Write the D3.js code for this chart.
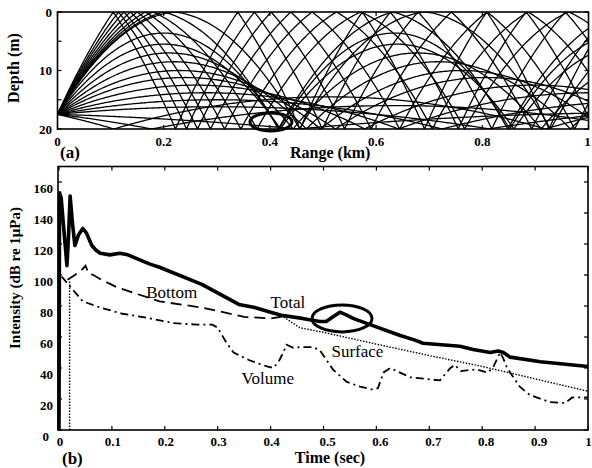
<!DOCTYPE html>
<html><head><meta charset="utf-8">
<script src="https://cdn.jsdelivr.net/npm/d3@7"></script>
<style>body{margin:0;background:#fff}svg{display:block}</style>
</head><body>
<svg id="c" width="592" height="468"></svg>
<script>
// ---------- Panel (a): ray trace ----------
const sourceDepth = 17.5;           // m
const waterDepth = 20;              // m
const rangeTicks = [0, 0.2, 0.4, 0.6, 0.8, 1];
const rangeTickLabels = ["0", "0.2", "0.4", "0.6", "0.8", "1"];
const depthTicks = [0, 5, 10, 15, 20];
const depthTickLabels = ["0", "", "10", "", "20"];
// steep rays: range (km) where they first hit the surface
const surfaceHitRange = [0.105, 0.115, 0.125, 0.137, 0.15, 0.165, 0.18, 0.2, 0.22];
const surfaceCurv = 320;            // m/km^2
// refracted rays: [apex depth (m), apex range (km)] of the first turning point
const refractedUp = [[3.6,0.2],[5.5,0.2],[7,0.21],[8.5,0.22],[10,0.23],[11.2,0.24],[12.5,0.26],[13.8,0.28],[15,0.3],[16.2,0.3]];
// rays launched downward: [apex depth (m), apex range (km)] of the arc after bottom bounce
const refractedDown = [[14.5,0.3],[16,0.28],[17.2,0.22]];

// ---------- Panel (b): intensity ----------
const timeTicks = [0,0.1,0.2,0.3,0.4,0.5,0.6,0.7,0.8,0.9,1];
const timeTickLabels = ["0","0.1","0.2","0.3","0.4","0.5","0.6","0.7","0.8","0.9","1"];
const intTicks = [0,20,40,60,80,100,120,140,160];
const intTickLabels = ["0","20","40","60","80","100","120","140","160"];
const totalT = [0,0.001,0.004,0.015,0.018,0.021,0.025,0.03,0.037,0.045,0.052,0.062,0.07,0.078,0.096,0.115,0.13,0.172,0.19,0.27,0.34,0.37,0.4,0.42,0.46,0.493,0.505,0.518,0.531,0.545,0.556,0.588,0.645,0.673,0.688,0.758,0.783,0.815,0.83,0.84,0.853,0.91,1.0];
const totalV = [0,153,150,106,125,151,135,119,126,130,127,119,116,114,113,114,113,107,105,94,81,79,76,74,72,70,70,73,76,74,72,68,61,58,56,54,52,50,51,50,47,44,41];
const bottomT = [0.016,0.03,0.045,0.05,0.056,0.065,0.08,0.11,0.19,0.27,0.35,0.4,0.43];
const bottomV = [97,100,104,106,101,100,97,92,83,79,73,72,73.5];
const surfaceT = [0.02,0.02,null,0.42,0.455,0.5,0.6,0.7,0.8,0.9,1.0];
const surfaceV = [0,97,null,74,66,63,55.4,48,41,33,25];
const volumeT = [0.005,0.015,0.03,0.045,0.078,0.12,0.172,0.216,0.26,0.29,0.3,0.317,0.33,0.36,0.393,0.405,0.415,0.424,0.43,0.443,0.455,0.48,0.493,0.518,0.544,0.569,0.594,0.603,0.613,0.626,0.664,0.72,0.74,0.748,0.76,0.777,0.79,0.81,0.82,0.834,0.84,0.847,0.871,0.89,0.928,0.957,0.97,1.0];
const volumeV = [99,95,89,83,79,75,72,69,68,68,66,56,50,45,41,40,44,50,55,53,53.5,53.5,51.5,39,31,28,26,27,37,40,34,32,40,42,38,38.7,39,37,40,50,46,40,28,22.6,18,17.4,21,21];
const labelNames = ["Bottom","Total","Surface","Volume"];
const labelT = [0.165,0.4,0.515,0.345];
const labelV = [85,79,47,30];

const svg = d3.select("#c");
const serif = "'Liberation Serif','Times New Roman',serif";

// scales
const xA = d3.scaleLinear([0,1],[57.5,588.5]);
const yA = d3.scaleLinear([0,20],[12,129]);
const xB = d3.scaleLinear([0,1],[59,588]);
const yB = d3.scaleLinear([0,170],[430,166.5]);

// ---- ray tracing with parabolic arcs reflecting at surface/bottom ----
function trace(zt, rc, a){
  const pts = [[0, sourceDepth]];
  let r0 = 0, guard = 0;
  while (r0 < 1.02 && guard++ < 200){
    let r1;
    if (r0 < rc && zt < 0) r1 = rc - Math.sqrt(-zt/a);
    else r1 = rc + Math.sqrt((waterDepth - zt)/a);
    const n = Math.max(2, Math.ceil((r1 - r0)/0.003));
    for (let i=1;i<=n;i++){
      const r = r0 + (r1-r0)*i/n;
      let z = zt + a*(r-rc)*(r-rc);
      z = Math.max(0, Math.min(waterDepth, z));
      pts.push([r, z]);
    }
    rc = 2*r1 - rc; r0 = r1;
  }
  return pts;
}
const rays = [];
surfaceHitRange.forEach(rs => {
  const k = rs*Math.sqrt(surfaceCurv);
  let su = (sourceDepth - k*k)/(2*k); if (su < 0.05) su = 0.05;
  const u = su*su;
  const rc = Math.sqrt((sourceDepth+u)/surfaceCurv);
  rays.push(trace(-u, rc, surfaceCurv));
});
refractedUp.forEach(([zt, rc]) => {
  const a = (sourceDepth - zt)/(rc*rc);
  rays.push(trace(zt, rc, a));
});
refractedDown.forEach(([zt, rb]) => {
  const a = (sourceDepth - zt)/(rb*rb);
  const rcNeg = -Math.sqrt((sourceDepth - zt)/a);
  rays.push(trace(zt, rcNeg, a));
});

svg.append("defs").append("clipPath").attr("id","clipA")
  .append("rect").attr("x",xA(0)).attr("y",yA(0)).attr("width",xA(1)-xA(0)).attr("height",yA(20)-yA(0));

const rayLine = d3.line().x(d=>xA(d[0])).y(d=>yA(d[1]));
svg.append("g").attr("clip-path","url(#clipA)")
  .selectAll("path").data(rays).join("path")
  .attr("d", rayLine).attr("fill","none").attr("stroke","#000").attr("stroke-width",1.3);

// frame (a)
svg.append("rect").attr("x",xA(0)).attr("y",yA(0)).attr("width",xA(1)-xA(0)).attr("height",yA(20)-yA(0))
  .attr("fill","none").attr("stroke","#000").attr("stroke-width",1.6);
const gA = svg.append("g");
rangeTicks.forEach(v=>{
  gA.append("line").attr("x1",xA(v)).attr("x2",xA(v)).attr("y1",yA(20)).attr("y2",yA(20)-4).attr("stroke","#000").attr("stroke-width",1.2);
  gA.append("line").attr("x1",xA(v)).attr("x2",xA(v)).attr("y1",yA(0)).attr("y2",yA(0)+4).attr("stroke","#000").attr("stroke-width",1.2);
});
depthTicks.forEach(v=>{
  gA.append("line").attr("x1",xA(0)).attr("x2",xA(0)+4).attr("y1",yA(v)).attr("y2",yA(v)).attr("stroke","#000").attr("stroke-width",1.2);
  gA.append("line").attr("x1",xA(1)).attr("x2",xA(1)-4).attr("y1",yA(v)).attr("y2",yA(v)).attr("stroke","#000").attr("stroke-width",1.2);
});
gA.selectAll("text.xl").data(rangeTicks).join("text")
  .attr("x",(d)=>d===1?xA(d)-1:xA(d)).attr("y",146).attr("text-anchor","middle")
  .attr("font-family",serif).attr("font-weight","bold").attr("font-size",13)
  .text((d,i)=>rangeTickLabels[i]);
gA.selectAll("text.yl").data(depthTicks).join("text")
  .attr("x",52).attr("y",d=>yA(d)+4.5).attr("text-anchor","end")
  .attr("font-family",serif).attr("font-weight","bold").attr("font-size",13)
  .text((d,i)=>depthTickLabels[i]);
svg.append("text").attr("x",290).attr("y",158).attr("font-family",serif).attr("font-weight","bold").attr("font-size",16)
  .text("Range (km)");
svg.append("text").attr("x",60).attr("y",158).attr("font-family",serif).attr("font-weight","bold").attr("font-size",17).text("(a)");
svg.append("text").attr("transform","translate(19,68) rotate(-90)").attr("text-anchor","middle")
  .attr("font-family",serif).attr("font-weight","bold").attr("font-size",16).text("Depth (m)");
svg.append("ellipse").attr("cx",xA(0.402)).attr("cy",yA(18.8)).attr("rx",21).attr("ry",9)
  .attr("fill","none").attr("stroke","#000").attr("stroke-width",3);

// ---------- Panel (b) ----------
svg.append("rect").attr("x",xB(0)-1).attr("y",yB(170)).attr("width",xB(1)-xB(0)+1).attr("height",yB(0)-yB(170))
  .attr("fill","none").attr("stroke","#000").attr("stroke-width",1.6);
const gB = svg.append("g");
timeTicks.forEach(v=>{
  gB.append("line").attr("x1",xB(v)).attr("x2",xB(v)).attr("y1",yB(0)).attr("y2",yB(0)-4).attr("stroke","#000").attr("stroke-width",1.2);
  gB.append("line").attr("x1",xB(v)).attr("x2",xB(v)).attr("y1",yB(170)).attr("y2",yB(170)+4).attr("stroke","#000").attr("stroke-width",1.2);
});
intTicks.forEach(v=>{
  gB.append("line").attr("x1",xB(0)-1).attr("x2",xB(0)+3).attr("y1",yB(v)).attr("y2",yB(v)).attr("stroke","#000").attr("stroke-width",1.2);
  gB.append("line").attr("x1",xB(1)).attr("x2",xB(1)-4).attr("y1",yB(v)).attr("y2",yB(v)).attr("stroke","#000").attr("stroke-width",1.2);
});
gB.selectAll("text.xl").data(timeTicks).join("text")
  .attr("x",d=>d===1?xB(d)+0.5:xB(d)+(d>=0.5?4:1)).attr("y",446).attr("text-anchor","middle")
  .attr("font-family",serif).attr("font-weight","bold").attr("font-size",13)
  .text((d,i)=>timeTickLabels[i]);
gB.selectAll("text.yl").data(intTicks).join("text")
  .attr("x",d=>d===0?49:53).attr("y",d=>yB(d)+11).attr("text-anchor","end")
  .attr("font-family",serif).attr("font-weight","bold").attr("font-size",13)
  .text((d,i)=>intTickLabels[i]);
svg.append("text").attr("x",330).attr("y",463).attr("text-anchor","middle").attr("font-family",serif).attr("font-weight","bold").attr("font-size",16).text("Time (sec)");
svg.append("text").attr("x",62).attr("y",464).attr("font-family",serif).attr("font-weight","bold").attr("font-size",17).text("(b)");
svg.append("text").attr("transform","translate(20,278) rotate(-90)").attr("text-anchor","middle")
  .attr("font-family",serif).attr("font-weight","bold").attr("font-size",15).text("Intensity (dB re 1\u03bcPa)");

const lineB = (T,V) => d3.line().defined((d,i)=>T[i]!==null).x((d,i)=>xB(T[i])).y((d,i)=>yB(V[i]))(T);
svg.append("path").attr("d",lineB(surfaceT,surfaceV)).attr("fill","none").attr("stroke","#000").attr("stroke-width",1.4).attr("stroke-dasharray","1.5,1.5");
svg.append("path").attr("d",lineB(volumeT,volumeV)).attr("fill","none").attr("stroke","#000").attr("stroke-width",1.8).attr("stroke-dasharray","8,4,2,4");
svg.append("path").attr("d",lineB(bottomT,bottomV)).attr("fill","none").attr("stroke","#000").attr("stroke-width",1.8).attr("stroke-dasharray","11,6");
svg.append("path").attr("d",lineB(totalT,totalV)).attr("fill","none").attr("stroke","#000").attr("stroke-width",3.6).attr("stroke-linejoin","round");

svg.selectAll("text.lab").data(labelNames).join("text")
  .attr("x",(d,i)=>xB(labelT[i])).attr("y",(d,i)=>yB(labelV[i]))
  .attr("font-family",serif).attr("font-size",17).text(d=>d);

svg.append("ellipse").attr("cx",xB(0.535)).attr("cy",yB(72)).attr("rx",30).attr("ry",13.5)
  .attr("fill","none").attr("stroke","#000").attr("stroke-width",3);
</script>
</body></html>
